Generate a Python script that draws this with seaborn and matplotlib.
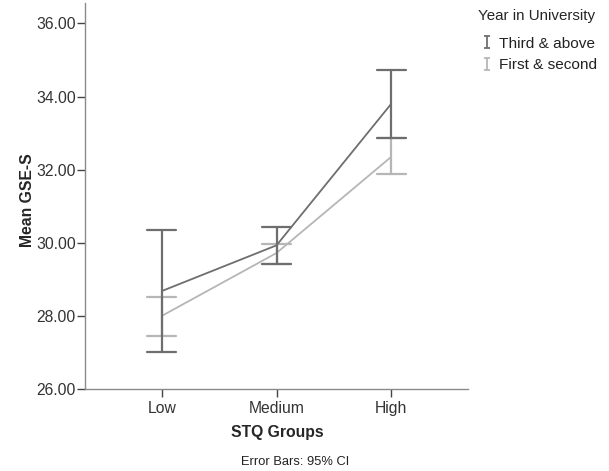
import numpy as np
import pandas as pd
import seaborn as sns
import matplotlib
matplotlib.use("Agg")
import matplotlib.pyplot as plt
from matplotlib.path import Path
from matplotlib.lines import Line2D

# ---- data ----
groups = ["Low", "Medium", "High"]
years = ["Third & above", "First & second"]
mean_third = [28.68, 29.93, 33.80]
lower_third = [27.00, 29.43, 32.87]
upper_third = [30.36, 30.43, 34.74]
mean_first = [28.00, 29.72, 32.35]
lower_first = [27.46, 29.43, 31.87]
upper_first = [28.53, 29.97, 32.87]

rows = []
for yr, m, lo, hi in [(years[0], mean_third, lower_third, upper_third),
                      (years[1], mean_first, lower_first, upper_first)]:
    for g, a, b, c in zip(groups, m, lo, hi):
        for v in (b, a, c):
            rows.append({"STQ Groups": g, "Year": yr, "GSE": v})
df = pd.DataFrame(rows)

sns.set_style("white")
plt.rcParams['font.family'] = ['Liberation Sans', 'DejaVu Sans']

fig = plt.figure(figsize=(6.09, 4.71), dpi=100)
ax = fig.add_axes([85/609, 1-389/471, (468-85)/609, (389-3)/471])

palette = {years[0]: "#6e6e6e", years[1]: "#b6b6b6"}
sns.pointplot(data=df, x="STQ Groups", y="GSE", hue="Year",
              order=groups, hue_order=years[::-1], palette=palette,
              estimator="median", errorbar=lambda x: (np.min(x), np.max(x)),
              markers="", linestyles="-", capsize=0.25, dodge=False,
              linewidth=1.3, err_kws={"linewidth": 1.6}, ax=ax, legend=False)

ax.set_ylim(26, 36.56)
ax.set_xlim(-0.67, 2.67)
ax.set_yticks([26, 28, 30, 32, 34, 36])
ax.set_yticklabels([f"{v:.2f}" for v in [26, 28, 30, 32, 34, 36]])
for s in ["top", "right"]:
    ax.spines[s].set_visible(False)
for s in ["left", "bottom"]:
    ax.spines[s].set_color("#8a8a8a")
    ax.spines[s].set_linewidth(1.0)
ax.tick_params(axis="both", bottom=True, left=True, direction="out", length=5.5,
               width=1, color="#444444", labelsize=11.3, labelcolor="#333333", pad=1)
ax.tick_params(axis="x", pad=3)
ax.set_xlabel("STQ Groups", fontsize=11.3, fontweight="bold")
ax.set_ylabel("Mean GSE-S", fontsize=11.3, fontweight="bold")
ax.xaxis.set_label_coords(0.5 + (277 - 276.5)/383, -0.093)
ax.yaxis.set_label_coords(-0.131, 0.49)

fig.text(295/609, 1-462/471, "Error Bars: 95% CI", fontsize=9.3, ha="center", va="center",
         color="#222222")

capI = Path([(-0.5, 1), (0.5, 1), (0, 1), (0, -1), (-0.5, -1), (0.5, -1)],
            [Path.MOVETO, Path.LINETO, Path.MOVETO, Path.LINETO, Path.MOVETO, Path.LINETO])
handles = [Line2D([], [], color=palette[y], marker=capI, linestyle="None",
                  markersize=8, markeredgewidth=1.3) for y in years]
leg = fig.legend(handles, years, title="Year in University", loc="upper left",
                 bbox_to_anchor=(467/609, 1+2/471), frameon=False, fontsize=11.1,
                 title_fontsize=10.9, handlelength=1.2, handletextpad=0.15,
                 labelspacing=0.5, borderpad=0.2)
leg._legend_box.align = "left"
leg._legend_box.sep = 10
for t in leg.get_texts():
    t.set_color("#222222")

fig.savefig("out.png", dpi=100, facecolor="white")
